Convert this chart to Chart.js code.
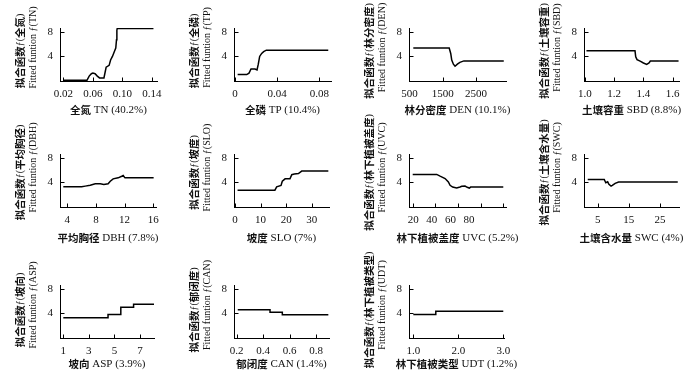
<!DOCTYPE html>
<html><head><meta charset="utf-8">
<script src="https://cdn.jsdelivr.net/npm/chart.js@4.4.0/dist/chart.umd.min.js"></script>
<style>
html,body{margin:0;padding:0;background:#fff;width:700px;height:382px;overflow:hidden;position:relative}
canvas{position:absolute}
</style></head><body>
<script>
// ---------- data ----------
const tnX = [0.020,0.052,0.055,0.058,0.060,0.063,0.066,0.069,0.075,0.077,0.078,0.082,0.084,0.0865,0.089,0.091,0.092,0.0925,0.093,0.142];
const tnY = [-0.1,-0.1,0.6,1.0,1.1,1.0,0.6,0.3,0.3,1.5,2.1,2.4,3.3,3.9,4.7,5.3,6.7,8.3,8.6,8.6];
const tpX = [0.0025,0.0111,0.0133,0.0152,0.019,0.0209,0.0221,0.0234,0.0253,0.0272,0.0297,0.0885];
const tpY = [0.86,0.86,1.1,1.8,1.8,1.65,2.6,3.9,4.4,4.7,4.95,4.95];
const denX = [614,1694,1740,1770,1820,1870,1940,2015,2135,3335];
const denY = [5.3,5.3,4.4,3.3,2.6,2.25,2.6,2.9,3.15,3.15];
const sbdX = [1.01,1.342,1.347,1.356,1.377,1.40,1.422,1.438,1.447,1.64];
const sbdY = [4.86,4.86,3.83,3.37,3.1,2.8,2.57,2.8,3.14,3.14];
const dbhX = [3.44,6.0,6.5,7.2,7.9,8.6,9.1,9.7,10.0,10.4,11.1,11.6,11.8,12.05,16.05];
const dbhY = [3.17,3.17,3.28,3.44,3.67,3.67,3.56,3.67,4.1,4.5,4.67,4.94,5.06,4.67,4.67];
const sloX = [1.0,15.6,16.3,18.0,18.5,19.6,21.5,22.2,23.2,24.8,26.1,36.5];
const sloY = [2.6,2.6,3.17,3.4,4.1,4.5,4.5,5.2,5.3,5.4,5.8,5.8];
const uvcX = [20,41.2,44.2,48.6,51.5,53,55.3,58.8,61.8,63.3,66.2,68.2,70,71.2,100];
const uvcY = [5.25,5.25,4.96,4.56,3.98,3.42,3.13,2.96,3.13,3.25,3.3,3.08,2.96,3.13,3.13];
const swcX = [1.8,7.1,7.6,8.2,8.6,9.3,9.7,10.6,11.7,30.7];
const swcY = [4.4,4.4,3.85,4.0,3.6,3.3,3.4,3.75,3.98,3.98];
const aspX = [1,4.5,4.5,5.5,5.5,6.5,6.5,8.1];
const aspY = [3.17,3.17,3.72,3.72,4.94,4.94,5.44,5.44];
const canX = [0.208,0.452,0.452,0.545,0.545,0.893];
const canY = [4.5,4.5,4.1,4.1,3.67,3.67];
const udtX = [1.0,1.5,1.5,3.0];
const udtY = [3.73,3.73,4.27,4.27];

// ---------- ticks ----------
const tnTicks = [0.02,0.06,0.10,0.14];   const tnTickLabels = ['0.02','0.06','0.10','0.14'];
const tpTicks = [0,0.04,0.08];           const tpTickLabels = ['0','0.04','0.08'];
const denTicks = [500,1500,2500];        const denTickLabels = ['500','1500','2500'];
const sbdTicks = [1.0,1.2,1.4,1.6];      const sbdTickLabels = ['1.0','1.2','1.4','1.6'];
const dbhTicks = [4,8,12,16];            const dbhTickLabels = ['4','8','12','16'];
const sloTicks = [0,10,20,30];           const sloTickLabels = ['0','10','20','30'];
const uvcTicks = [20,40,60,80,100];
const uvcLabelTicks = [20,40,60,80];     const uvcTickLabels = ['20','40','60','80'];
const swcTicks = [5,15,25];              const swcTickLabels = ['5','15','25'];
const aspTicks = [1,3,5,7];              const aspTickLabels = ['1','3','5','7'];
const canTicks = [0.2,0.4,0.6,0.8];      const canTickLabels = ['0.2','0.4','0.6','0.8'];
const udtTicks = [1,2,3];                const udtTickLabels = ['1.0','2.0','3.0'];
const yTicks = [4,8];                    const yTickLabels = ['4','8'];

// ---------- titles ----------
const xTitles = ['全氮 TN (40.2%)','全磷 TP (10.4%)','林分密度 DEN (10.1%)','土壤容重 SBD (8.8%)',
  '平均胸径 DBH (7.8%)','坡度 SLO (7%)','林下植被盖度 UVC (5.2%)','土壤含水量 SWC (4%)',
  '坡向 ASP (3.9%)','郁闭度 CAN (1.4%)','林下植被类型 UDT (1.2%)'];
const yNamesCN = ['全氮','全磷','林分密度','土壤容重','平均胸径','坡度','林下植被盖度','土壤含水量','坡向','郁闭度','林下植被类型'];
const yCodes = ['TN','TP','DEN','SBD','DBH','SLO','UVC','SWC','ASP','CAN','UDT'];

// ---------- panels (axis ranges) ----------
const panels = [
  {x:tnX, y:tnY, ticks:tnTicks, labels:tnTickLabels, min:0.01553, max:0.1468},
  {x:tpX, y:tpY, ticks:tpTicks, labels:tpTickLabels, min:-0.00095, max:0.0911},
  {x:denX, y:denY, ticks:denTicks, labels:denTickLabels, min:485, max:3402},
  {x:sbdX, y:sbdY, ticks:sbdTicks, labels:sbdTickLabels, min:0.9932, max:1.643},
  {x:dbhX, y:dbhY, ticks:dbhTicks, labels:dbhTickLabels, min:2.981, max:16.38},
  {x:sloX, y:sloY, ticks:sloTicks, labels:sloTickLabels, min:-0.39, max:36.76},
  {x:uvcX, y:uvcY, ticks:uvcTicks, labels:null, min:16.73, max:102.4,
    labelAxis:{ticks:uvcLabelTicks, labels:uvcTickLabels, min:15.37, max:119.86}},
  {x:swcX, y:swcY, ticks:swcTicks, labels:swcTickLabels, min:0.602, max:31.1},
  {x:aspX, y:aspY, ticks:aspTicks, labels:aspTickLabels, min:0.742, max:8.097},
  {x:canX, y:canY, ticks:canTicks, labels:canTickLabels, min:0.1796, max:0.898},
  {x:udtX, y:udtY, ticks:udtTicks, labels:udtTickLabels, min:0.9044, max:3.016}
];
const yMin = -0.22, yMax = 8.67;

// ---------- layout ----------
const place = [[0,0,97],[0,1,97],[0,2,97],[0,3,95],[1,0,96],[1,1,95],[1,2,97],[1,3,95],[2,0,94],[2,1,95],[2,2,95]];
const colX = [60,234,409,584];
const rowTop = [28,154,285];
const plotH = 53, padTop = 45, axisW = 60, axisH = 45, padRight = 20;
const xTitleGap = [29,31.5,26.5];
const cnShift = [-3.5,-8,-1.5];
const enShift = [-7,-13,-6.5];
const FONT = '"Liberation Serif", serif';
const CJK = '"Noto Sans CJK SC", sans-serif';
const INK = '#111';

// draw text with CJK runs in a heavier CJK face, centred on (0,0)
function mixedText(ctx, text, latinPx, cjkPx){
  const runs = text.match(/[\u3000-\u9fff\uff00-\uffef]+|[^\u3000-\u9fff\uff00-\uffef]+/g);
  const fonts = runs.map(r => /[\u3000-\u9fff\uff00-\uffef]/.test(r) ? 'bold '+cjkPx+'px '+CJK : latinPx+'px '+FONT);
  let total = 0;
  const widths = runs.map((r,k)=>{ ctx.font = fonts[k]; const w = ctx.measureText(r).width; total += w; return w; });
  let x = -total/2;
  ctx.textAlign = 'left'; ctx.textBaseline = 'middle';
  runs.forEach((r,k)=>{ ctx.font = fonts[k]; ctx.fillText(r, x, 0); x += widths[k]; });
}

const decor = {
  id:'decor',
  afterDraw(chart, args, o){
    const ctx = chart.ctx, xs = chart.scales.x, ys = chart.scales.y, ca = chart.chartArea;
    ctx.save();
    ctx.strokeStyle = '#000'; ctx.lineWidth = 1;
    ctx.beginPath();
    xs.ticks.forEach(t=>{ const px = Math.round(xs.getPixelForValue(t.value))+0.5; ctx.moveTo(px, ca.bottom+0.5); ctx.lineTo(px, ca.bottom-3.5); });
    ys.ticks.forEach(t=>{ const py = Math.round(ys.getPixelForValue(t.value))+0.5; ctx.moveTo(ca.left, py); ctx.lineTo(ca.left+4.5, py); });
    ctx.stroke();
    ctx.fillStyle = INK;
    ctx.save(); ctx.translate((ca.left+ca.right)/2, ca.bottom + o.gap);
    mixedText(ctx, o.xTitle, 11, 10.5); ctx.restore();
    const cy = (ca.top+ca.bottom)/2;
    [[o.cn, -40, o.cnShift, 10.5],[o.en, -27, o.enShift, 9.5]].forEach(([txt,dx,dy,cs])=>{
      ctx.save(); ctx.translate(ca.left+dx, cy+dy); ctx.rotate(-Math.PI/2);
      mixedText(ctx, txt, 10, cs); ctx.restore();
    });
    ctx.restore();
  }
};

panels.forEach((p,i)=>{
  const [row,col,w] = place[i];
  const cv = document.createElement('canvas');
  const W = axisW + w + padRight, H = padTop + plotH + axisH;
  cv.width = W; cv.height = H;
  cv.style.left = (colX[col]-axisW)+'px';
  cv.style.top = (rowTop[row]-padTop)+'px';
  cv.style.width = W+'px'; cv.style.height = H+'px';
  document.body.appendChild(cv);

  const tickFont = {family:FONT, size:11};
  const scales = {
    x:{type:'linear', position:'bottom', min:p.min, max:p.max, weight:0,
      afterBuildTicks:s=>{ s.ticks = p.ticks.map(v=>({value:v})); },
      afterFit:s=>{ s.height = p.labelAxis ? 0 : axisH; },
      grid:{display:false, drawTicks:false},
      border:{display:true, color:'#000', width:1},
      ticks:{display:!p.labelAxis, autoSkip:false, maxRotation:0, minRotation:0, padding:7, color:INK, font:tickFont,
        callback:(v,idx)=> p.labels ? p.labels[idx] : ''}},
    y:{type:'linear', position:'left', min:yMin, max:yMax,
      afterBuildTicks:s=>{ s.ticks = yTicks.map(v=>({value:v})); },
      afterFit:s=>{ s.width = axisW; },
      grid:{display:false, drawTicks:false},
      border:{display:true, color:'#000', width:1},
      ticks:{padding:7, color:INK, font:tickFont, callback:(v,idx)=>yTickLabels[idx]}}
  };
  if (p.labelAxis){
    const la = p.labelAxis;
    scales.xl = {type:'linear', position:'bottom', min:la.min, max:la.max, weight:1,
      afterBuildTicks:s=>{ s.ticks = la.ticks.map(v=>({value:v})); },
      afterFit:s=>{ s.height = axisH; },
      grid:{display:false, drawTicks:false},
      border:{display:false},
      ticks:{autoSkip:false, maxRotation:0, minRotation:0, padding:7, color:INK, font:tickFont,
        callback:(v,idx)=>la.labels[idx]}};
  }
  new Chart(cv, {
    type:'line',
    data:{datasets:[{data:p.x.map((v,k)=>({x:v, y:p.y[k]})), borderColor:'#000', borderWidth:1.5,
      pointRadius:0, tension:0, fill:false}]},
    options:{responsive:false, maintainAspectRatio:false, animation:false, devicePixelRatio:1,
      layout:{padding:{top:padTop, left:0, right:padRight, bottom:0}},
      scales,
      plugins:{legend:{display:false}, tooltip:{enabled:false},
        decor:{xTitle:xTitles[i], gap:xTitleGap[row], cn:'拟合函数ƒ('+yNamesCN[i]+')', en:'Fitted funtion ƒ('+yCodes[i]+')',
          cnShift:cnShift[row], enShift:enShift[row]}}},
    plugins:[decor]
  });
});
</script>
</body></html>
